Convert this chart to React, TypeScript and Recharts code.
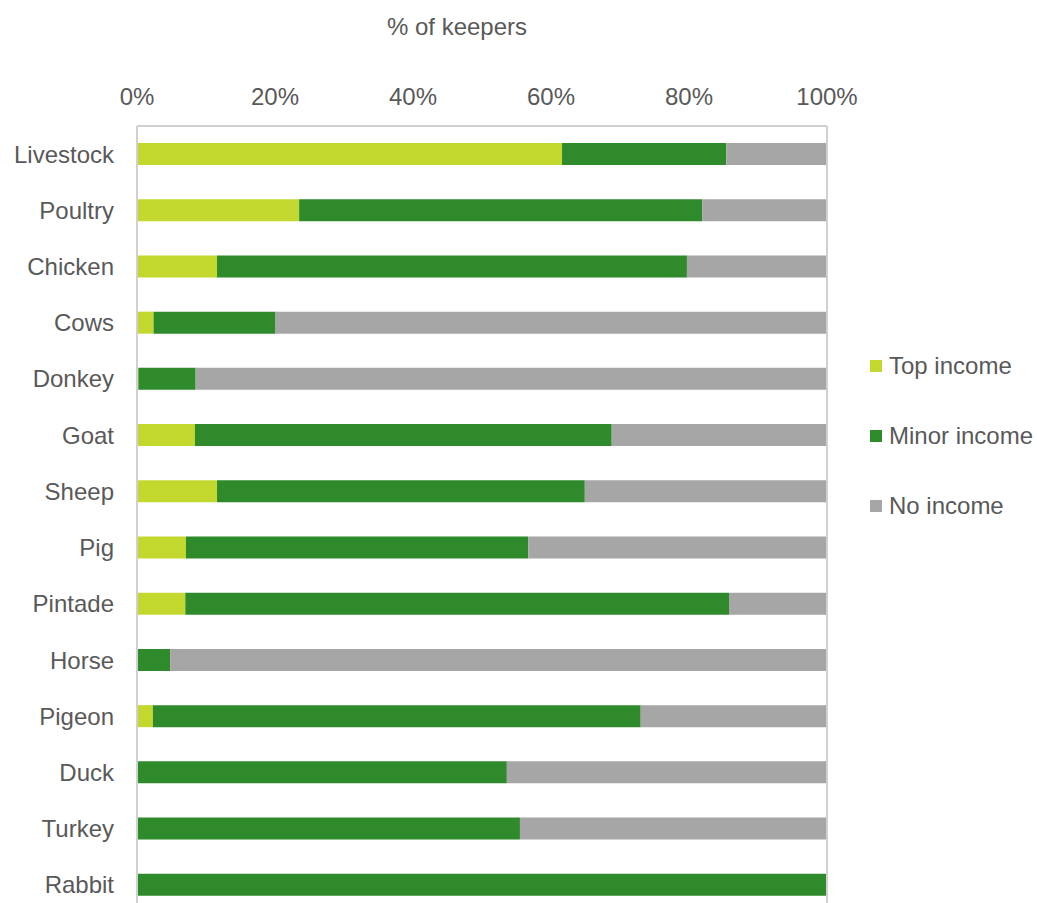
import React from 'react';
import { BarChart, Bar, XAxis, YAxis, ReferenceLine } from 'recharts';

const categories = ['Livestock','Poultry','Chicken','Cows','Donkey','Goat','Sheep','Pig','Pintade','Horse','Pigeon','Duck','Turkey','Rabbit'];
const topIncome = [61.6, 23.5, 11.6, 2.4, 0.2, 8.4, 11.6, 7.1, 7.0, 0, 2.3, 0, 0, 0];
const minorIncome = [23.8, 58.4, 68.1, 17.6, 8.3, 60.4, 53.3, 49.6, 78.8, 4.8, 70.7, 53.6, 55.5, 100];
const noIncome = [14.6, 18.1, 20.3, 80.0, 91.5, 31.2, 35.1, 43.3, 14.2, 95.2, 27.0, 46.4, 44.5, 0];
const xTicks = [0, 20, 40, 60, 80, 100];

const seriesNames = ['Top income', 'Minor income', 'No income'];
const colors = ['#C3D82E', '#2F8A2B', '#A6A6A6'];

const data = categories.map((c, i) => ({
  name: c,
  top: topIncome[i],
  minor: minorIncome[i],
  none: noIncome[i],
}));

const FONT = '"Liberation Sans", Arial, Helvetica, sans-serif';
const TEXT = '#595959';
const BORDER = '#D0D0D0';

export default function App() {
  return (
    <div style={{ position: 'fixed', left: 0, top: 0, width: 1037, height: 903, overflow: 'hidden', background: '#fff' }}>
      <div
        style={{
          position: 'absolute',
          left: 457 - 100,
          width: 200,
          top: 13,
          textAlign: 'center',
          fontFamily: FONT,
          fontSize: 24,
          color: TEXT,
          lineHeight: '28px',
        }}
      >
        % of keepers
      </div>
      <div
        style={{
          position: 'absolute',
          left: 870,
          top: 331,
          fontFamily: FONT,
          fontSize: 24,
          color: TEXT,
          whiteSpace: 'nowrap',
          zIndex: 2,
        }}
      >
        {seriesNames.map((n, i) => (
          <div key={n} style={{ height: 70, display: 'flex', alignItems: 'center' }}>
            <div style={{ width: 12, height: 12, background: colors[i], marginRight: 7 }} />
            <span>{n}</span>
          </div>
        ))}
      </div>
      <div style={{ position: 'absolute', left: 8, top: 8 }}>
        <BarChart
          width={1029}
          height={910}
          data={data}
          layout="vertical"
          margin={{ top: 68, right: 210, bottom: 5, left: 0 }}
          barSize={22}
        >
          <XAxis
            type="number"
            orientation="top"
            domain={[0, 100]}
            ticks={xTicks}
            tickFormatter={(v) => `${v}%`}
            height={50}
            tickLine={false}
            tickSize={0}
            tickMargin={21}
            axisLine={{ stroke: BORDER, strokeWidth: 2 }}
            tick={{ fill: TEXT, fontSize: 24, fontFamily: FONT }}
            interval={0}
          />
          <YAxis
            type="category"
            dataKey="name"
            width={129}
            tickLine={false}
            tickSize={0}
            tickMargin={23}
            axisLine={{ stroke: BORDER, strokeWidth: 2 }}
            tick={{ fill: TEXT, fontSize: 24, fontFamily: FONT }}
            interval={0}
          />
          <ReferenceLine x={100} stroke={BORDER} strokeWidth={2} />
          <Bar dataKey="top" stackId="a" fill={colors[0]} name={seriesNames[0]} isAnimationActive={false} />
          <Bar dataKey="minor" stackId="a" fill={colors[1]} name={seriesNames[1]} isAnimationActive={false} />
          <Bar dataKey="none" stackId="a" fill={colors[2]} name={seriesNames[2]} isAnimationActive={false} />
        </BarChart>
      </div>
    </div>
  );
}
